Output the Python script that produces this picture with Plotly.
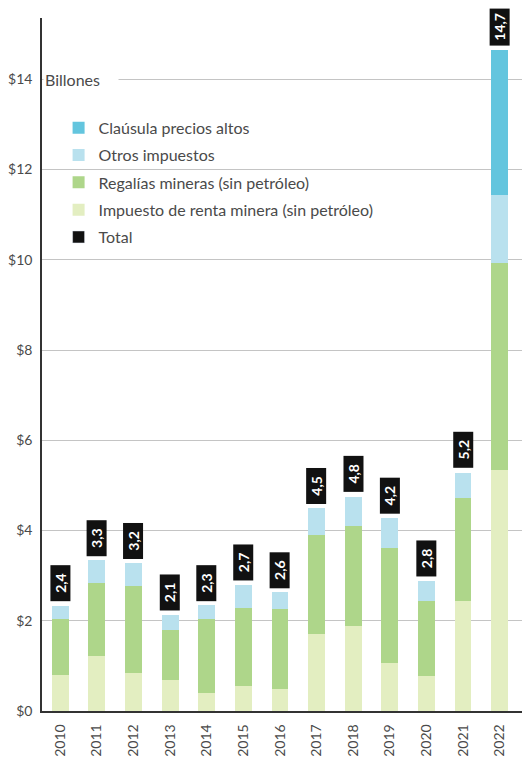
import plotly.graph_objects as go

years = ["2010", "2011", "2012", "2013", "2014", "2015", "2016",
         "2017", "2018", "2019", "2020", "2021", "2022"]
renta = [0.79, 1.23, 0.84, 0.68, 0.40, 0.56, 0.49, 1.70, 1.88, 1.07, 0.78, 2.44, 5.35]
regalias = [1.26, 1.60, 1.92, 1.12, 1.63, 1.72, 1.76, 2.19, 2.23, 2.55, 1.66, 2.28, 4.58]
otros = [0.28, 0.51, 0.51, 0.32, 0.31, 0.51, 0.38, 0.60, 0.64, 0.66, 0.44, 0.56, 1.51]
clausula = [0, 0, 0, 0, 0, 0, 0, 0, 0, 0, 0, 0, 3.20]
totals = [2.4, 3.3, 3.2, 2.1, 2.3, 2.7, 2.6, 4.5, 4.8, 4.2, 2.8, 5.2, 14.7]
y_ticks = [0, 2, 4, 6, 8, 10, 12, 14]
y_ticktext = ["$0", "$2", "$4", "$6", "$8", "$10", "$12", "$14"]

FONT = "Lato"
GREY = "#4a4a4a"
NB = "\u00a0"

series = [
    ("Impuesto de renta minera (sin petróleo)", renta, "#e3eec1", 4),
    ("Regalías mineras (sin petróleo)", regalias, "#aed68a", 3),
    ("Otros impuestos", otros, "#b9e1ee", 2),
    ("Claúsula precios altos", clausula, "#63c5de", 1),
]

fig = go.Figure()
for name, vals, color, rank in series:
    fig.add_trace(go.Bar(
        x=years, y=vals, name=name, marker=dict(color=color, line=dict(width=0)),
        legendrank=rank, legendgroup=name,
    ))
fig.add_trace(go.Bar(
    x=years, y=[None] * len(years), name="Total",
    marker=dict(color="#111111"), legendrank=5, legendgroup="Total",
))

stack_tops = [a + b + c + d for a, b, c, d in zip(renta, regalias, otros, clausula)]
for i, (top, tot) in enumerate(zip(stack_tops, totals)):
    label = f"{tot:.1f}".replace(".", ",")
    pad = NB * 2 if len(label) <= 3 else NB
    fig.add_annotation(
        x=i, y=top, xref="x", yref="y",
        text=pad + "<b>" + label + "</b>" + pad,
        textangle=-90, showarrow=False,
        font=dict(family=FONT, size=14, color="white", weight=700),
        bgcolor="#111111", borderpad=1,
        yanchor="bottom", xanchor="center", yshift=4,
    )

fig.add_annotation(
    x=0, y=14, xref="paper", yref="y", text="Billones", showarrow=False,
    font=dict(family=FONT, size=16, color=GREY), bgcolor="white",
    xanchor="left", yanchor="middle", xshift=1, width=72, align="left", borderpad=1,
)

# the page body adds an 8px offset, so the figure is 8px smaller
fig.update_layout(
    width=522, height=749,
    margin=dict(l=32, r=0, t=10, b=43),
    paper_bgcolor="white", plot_bgcolor="white",
    barmode="stack", bargap=0.54,
    font=dict(family=FONT, size=14, color=GREY),
    showlegend=True,
    legend=dict(
        x=0.034, y=0.866, xanchor="left", yanchor="top",
        traceorder="grouped", tracegroupgap=3.5,
        font=dict(family=FONT, size=16, color=GREY),
        bgcolor="rgba(0,0,0,0)", itemwidth=30,
    ),
    xaxis=dict(
        type="category", range=[-0.5, 12.83],
        tickangle=-90, showline=True, linecolor="#333333", linewidth=1.5,
        showgrid=False, ticks="", ticklabelstandoff=6,
        tickfont=dict(family=FONT, size=14, color=GREY),
    ),
    yaxis=dict(
        range=[0, 15.36], tickvals=y_ticks, ticktext=y_ticktext,
        showline=True, linecolor="#333333", linewidth=1.5,
        showgrid=True, gridcolor="#c4c4c4", gridwidth=1, zeroline=False,
        ticks="", ticklabelstandoff=5,
        tickfont=dict(family=FONT, size=14, color=GREY),
    ),
)

fig.write_html("out.html")
